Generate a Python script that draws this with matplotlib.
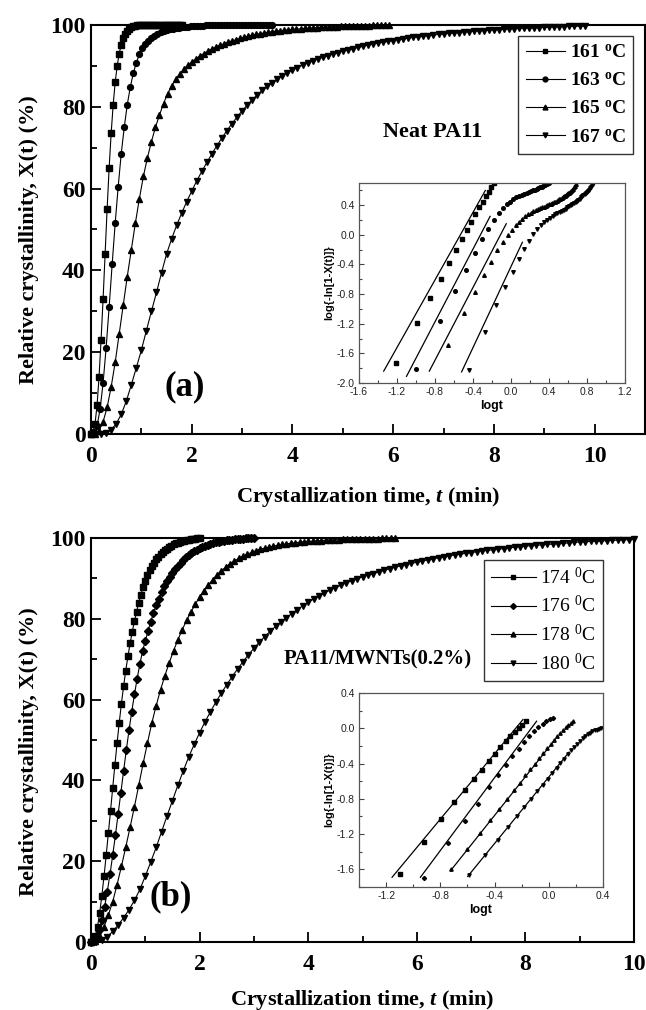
import matplotlib
matplotlib.use("Agg")
import matplotlib.pyplot as plt
from matplotlib.lines import Line2D
from matplotlib.ticker import MultipleLocator
import numpy as np

plt.rcParams['font.family'] = ['Liberation Serif', 'DejaVu Serif']
plt.rcParams['mathtext.fontset'] = 'custom'
plt.rcParams['mathtext.rm'] = 'Liberation Serif'
plt.rcParams['mathtext.it'] = 'Liberation Serif:italic:bold'
plt.rcParams['mathtext.bf'] = 'Liberation Serif:bold'

# ---------------- data: panel (a) Neat PA11 ----------------
labels_a = ['161 $^{\\mathbf{o}}$C', '163 $^{\\mathbf{o}}$C', '165 $^{\\mathbf{o}}$C', '167 $^{\\mathbf{o}}$C']
t161 = [0.00,0.04,0.08,0.12,0.16,0.20,0.24,0.28,0.32,0.36,0.40,0.44,0.48,0.52,0.56,0.60,0.64,0.68,0.72,0.76,
        0.80,0.84,0.88,0.92,0.96,1.00,1.04,1.08,1.12,1.16,1.20,1.24,1.28,1.32,1.36,1.40,1.44,1.48,1.52,1.56,
        1.60,1.64,1.68,1.72,1.76,1.80]
x161 = [0,0.5,2.5,7,14,23,33,44,55,65,73.5,80.5,86,90,93,95.2,96.8,97.9,98.6,99.1,
        99.45,99.65,99.8,99.9,99.95,100,100,100,100,100,100,100,100,100,100,100,100,100,100,100,
        100,100,100,100,100,100]
t163 = [0.00,0.06,0.12,0.18,0.24,0.30,0.36,0.42,0.48,0.54,0.60,0.66,0.72,0.78,0.84,0.90,0.96,1.02,1.08,1.14,
        1.20,1.26,1.32,1.38,1.44,1.50,1.56,1.62,1.68,1.74,1.80,1.86,1.92,1.98,2.04,2.10,2.16,2.22,2.28,2.34,
        2.40,2.46,2.52,2.58,2.64,2.70,2.76,2.82,2.88,2.94,3.00,3.06,3.12,3.18,3.24,3.30,3.36,3.42,3.48,3.54,3.60]
x163 = [0,0.3,2.0,6,12.5,21,31,41.5,51.5,60.5,68.5,75,80.5,84.8,88.2,90.8,92.8,94.3,95.4,96.2,
        96.9,97.4,97.85,98.2,98.5,98.75,98.95,99.12,99.26,99.38,99.48,99.56,99.63,99.69,99.74,99.78,99.82,99.85,99.88,99.9,
        99.92,99.94,99.95,99.96,99.97,99.98,99.99,100,100,100,100,100,100,100,100,100,100,100,100,100,100]
t165 = [0.00,0.08,0.16,0.24,0.32,0.40,0.48,0.56,0.64,0.72,0.80,0.88,0.96,1.04,1.12,1.20,1.28,1.36,1.44,1.52,
        1.60,1.68,1.76,1.84,1.92,2.00,2.08,2.16,2.24,2.32,2.40,2.48,2.56,2.64,2.72,2.80,2.88,2.96,3.04,3.12,
        3.20,3.28,3.36,3.44,3.52,3.60,3.68,3.76,3.84,3.92,4.00,4.08,4.16,4.24,4.32,4.40,4.48,4.56,4.64,4.72,
        4.80,4.88,4.96,5.04,5.12,5.20,5.28,5.36,5.44,5.52,5.60,5.68,5.76,5.84,5.92]
x165 = [0,0.1,0.8,3.0,6.5,11.5,17.5,24.5,31.5,38.5,45,51.5,57.5,63,67.5,71.5,75,78,80.8,83.2,
        85.1,86.7,88.0,89.2,90.1,90.9,91.7,92.4,93.0,93.6,94.1,94.6,95.0,95.4,95.8,96.1,96.4,96.7,97.0,97.25,
        97.5,97.7,97.9,98.05,98.2,98.35,98.5,98.6,98.7,98.8,98.9,99.0,99.08,99.15,99.22,99.3,99.36,99.42,99.47,99.52,
        99.57,99.61,99.65,99.69,99.72,99.75,99.78,99.81,99.84,99.86,99.88,99.9,99.92,99.94,99.96]
t167 = [0.0,0.1,0.2,0.3,0.4,0.5,0.6,0.7,0.8,0.9,1.0,1.1,1.2,1.3,1.4,1.5,1.6,1.7,1.8,1.9,
        2.0,2.1,2.2,2.3,2.4,2.5,2.6,2.7,2.8,2.9,3.0,3.1,3.2,3.3,3.4,3.5,3.6,3.7,3.8,3.9,
        4.0,4.1,4.2,4.3,4.4,4.5,4.6,4.7,4.8,4.9,5.0,5.1,5.2,5.3,5.4,5.5,5.6,5.7,5.8,5.9,
        6.0,6.1,6.2,6.3,6.4,6.5,6.6,6.7,6.8,6.9,7.0,7.1,7.2,7.3,7.4,7.5,7.6,7.7,7.8,7.9,
        8.0,8.1,8.2,8.3,8.4,8.5,8.6,8.7,8.8,8.9,9.0,9.1,9.2,9.3,9.4,9.5,9.6,9.7,9.8]
x167 = [0,0,0.05,0.3,1.0,2.5,4.8,8,12,16.2,20.5,25.3,30.0,34.6,39.4,44.0,47.7,51.0,54.0,56.8,
        59.4,61.9,64.2,66.4,68.5,70.5,72.4,74.2,75.9,77.5,79.0,80.4,81.7,82.9,84.0,85.0,85.9,86.8,87.6,88.3,
        89.0,89.6,90.2,90.7,91.2,91.7,92.1,92.5,92.9,93.25,93.6,93.9,94.2,94.5,94.8,95.1,95.35,95.6,95.8,96.0,
        96.2,96.4,96.6,96.8,96.95,97.1,97.25,97.4,97.55,97.7,97.8,97.95,98.05,98.15,98.25,98.35,98.45,98.55,98.65,98.72,
        98.8,98.88,98.95,99.02,99.09,99.15,99.21,99.27,99.33,99.38,99.43,99.48,99.53,99.57,99.61,99.65,99.69,99.72,99.75]

# inset (a): log t vs log{-ln[1-X(t)]}
la161 = [-1.21,-0.99,-0.85,-0.74,-0.654,-0.582,-0.52,-0.466,-0.418,-0.375,-0.335,-0.299,-0.266,-0.235,-0.206,-0.179]
ly161 = [-1.73,-1.19,-0.85,-0.59,-0.38,-0.21,-0.06,0.07,0.18,0.28,0.37,0.45,0.52,0.58,0.64,0.70]
la163 = [-1.0,-0.745,-0.585,-0.469,-0.377,-0.301,-0.237,-0.180,-0.131,-0.086,-0.046,-0.009,0.025,0.057,0.086,0.114,
         0.140,0.164,0.188,0.210,0.230,0.250,0.270,0.288,0.305,0.322,0.338,0.354,0.369,0.384,0.398]
ly163 = [-1.81,-1.16,-0.76,-0.47,-0.24,-0.06,0.08,0.2,0.29,0.36,0.41,0.45,0.48,0.505,0.525,0.54,
         0.555,0.57,0.58,0.59,0.60,0.61,0.62,0.63,0.64,0.65,0.66,0.67,0.68,0.69,0.70]
la165 = [-0.658,-0.495,-0.377,-0.284,-0.208,-0.143,-0.086,-0.036,0.009,0.049,0.086,0.121,0.152,0.182,0.210,0.236,
         0.260,0.283,0.305,0.326,0.346,0.365,0.384,0.401,0.418,0.435,0.450,0.465,0.480,0.494,0.508,0.521,
         0.534,0.547,0.559,0.571,0.582,0.593,0.604,0.615,0.625,0.635,0.645,0.655,0.665,0.674,0.683]
ly165 = [-1.49,-1.06,-0.77,-0.54,-0.36,-0.21,-0.09,0.0,0.07,0.13,0.18,0.22,0.255,0.28,0.30,0.32,
         0.335,0.35,0.36,0.37,0.38,0.39,0.40,0.41,0.42,0.43,0.44,0.45,0.46,0.47,0.48,0.49,
         0.50,0.51,0.52,0.53,0.54,0.55,0.56,0.57,0.58,0.59,0.60,0.62,0.64,0.66,0.68]
la167 = [-0.444,-0.276,-0.155,-0.060,0.017,0.083,0.140,0.190,0.236,0.276,0.314,0.348,0.380,0.410,0.438,0.464,
         0.489,0.512,0.534,0.555,0.575,0.594,0.613,0.630,0.647,0.664,0.679,0.695,0.709,0.723,0.737,0.750,
         0.763,0.776,0.788,0.800,0.812,0.823,0.834,0.844,0.855,0.865]
ly167 = [-1.83,-1.31,-0.95,-0.70,-0.50,-0.33,-0.19,-0.08,0.01,0.08,0.13,0.17,0.20,0.23,0.255,0.275,
         0.295,0.31,0.325,0.34,0.355,0.37,0.385,0.40,0.415,0.43,0.445,0.46,0.475,0.49,0.505,0.52,
         0.535,0.55,0.565,0.58,0.595,0.61,0.63,0.65,0.67,0.69]
fitx_a = [[-1.34,-0.27],[-1.10,-0.22],[-0.86,-0.05],[-0.52,0.12]]
fity_a = [[-1.84,0.60],[-1.91,0.25],[-1.84,0.15],[-1.85,-0.10]]

# ---------------- data: panel (b) PA11/MWNTs(0.2%) ----------------
labels_b = ['174 $^{0}$C', '176 $^{0}$C', '178 $^{0}$C', '180 $^{0}$C']
t174 = [0.00,0.04,0.08,0.12,0.16,0.20,0.24,0.28,0.32,0.36,0.40,0.44,0.48,0.52,0.56,0.60,0.64,0.68,0.72,0.76,
        0.80,0.84,0.88,0.92,0.96,1.00,1.04,1.08,1.12,1.16,1.20,1.24,1.28,1.32,1.36,1.40,1.44,1.48,1.52,1.56,
        1.60,1.64,1.68,1.72,1.76,1.80,1.84,1.88,1.92,1.96,2.00]
x174 = [0,0.3,1.5,3.8,7.2,11.5,16.3,21.5,27,32.5,38.2,43.8,49.2,54.3,59,63.3,67.2,70.7,73.9,76.8,
        79.4,81.8,84.0,86.0,87.8,89.4,90.8,92.0,93.0,93.9,94.7,95.4,96.0,96.5,97.0,97.4,97.8,98.1,98.4,98.65,
        98.85,99.05,99.2,99.35,99.47,99.58,99.67,99.75,99.82,99.88,99.93]
t176 = [0.00,0.05,0.10,0.15,0.20,0.25,0.30,0.35,0.40,0.45,0.50,0.55,0.60,0.65,0.70,0.75,0.80,0.85,0.90,0.95,
        1.00,1.05,1.10,1.15,1.20,1.25,1.30,1.35,1.40,1.45,1.50,1.55,1.60,1.65,1.70,1.75,1.80,1.85,1.90,1.95,
        2.00,2.05,2.10,2.15,2.20,2.25,2.30,2.35,2.40,2.45,2.50,2.55,2.60,2.65,2.70,2.75,2.80,2.85,2.90,2.95,3.00]
x176 = [0,0.3,1.2,3.0,5.5,8.7,12.5,16.8,21.5,26.5,31.7,37,42.3,47.5,52.4,57,61.3,65.2,68.8,72.1,
        74.5,77.0,79.3,81.4,83.3,85.0,86.6,88.0,89.3,90.4,91.4,92.3,93.1,93.9,94.6,95.2,95.75,96.25,96.7,97.1,
        97.45,97.8,98.1,98.35,98.58,98.78,98.95,99.1,99.23,99.35,99.45,99.54,99.62,99.69,99.75,99.8,99.85,99.89,99.92,99.95,99.97]
t178 = [0.00,0.08,0.16,0.24,0.32,0.40,0.48,0.56,0.64,0.72,0.80,0.88,0.96,1.04,1.12,1.20,1.28,1.36,1.44,1.52,
        1.60,1.68,1.76,1.84,1.92,2.00,2.08,2.16,2.24,2.32,2.40,2.48,2.56,2.64,2.72,2.80,2.88,2.96,3.04,3.12,
        3.20,3.28,3.36,3.44,3.52,3.60,3.68,3.76,3.84,3.92,4.00,4.08,4.16,4.24,4.32,4.40,4.48,4.56,4.64,4.72,
        4.80,4.88,4.96,5.04,5.12,5.20,5.28,5.36,5.44,5.52,5.60]
x178 = [0,0.2,1.2,3.8,6.7,10.0,14.2,18.7,23.5,28.4,33.5,38.8,44.2,49.3,54.2,58.5,62.4,65.9,69.1,72.1,
        74.8,77.3,79.6,81.7,83.6,85.4,87.0,88.4,89.7,90.9,91.9,92.8,93.6,94.3,94.95,95.5,96.0,96.45,96.85,97.2,
        97.5,97.75,98.0,98.2,98.4,98.55,98.7,98.83,98.95,99.05,99.14,99.22,99.3,99.37,99.43,99.49,99.54,99.59,99.63,99.67,
        99.71,99.74,99.77,99.8,99.82,99.84,99.86,99.88,99.9,99.92,99.94]
t180 = [0.0,0.1,0.2,0.3,0.4,0.5,0.6,0.7,0.8,0.9,1.0,1.1,1.2,1.3,1.4,1.5,1.6,1.7,1.8,1.9,
        2.0,2.1,2.2,2.3,2.4,2.5,2.6,2.7,2.8,2.9,3.0,3.1,3.2,3.3,3.4,3.5,3.6,3.7,3.8,3.9,
        4.0,4.1,4.2,4.3,4.4,4.5,4.6,4.7,4.8,4.9,5.0,5.1,5.2,5.3,5.4,5.5,5.6,5.7,5.8,5.9,
        6.0,6.1,6.2,6.3,6.4,6.5,6.6,6.7,6.8,6.9,7.0,7.1,7.2,7.3,7.4,7.5,7.6,7.7,7.8,7.9,
        8.0,8.1,8.2,8.3,8.4,8.5,8.6,8.7,8.8,8.9,9.0,9.1,9.2,9.3,9.4,9.5,9.6,9.7,9.8,9.9,10.0]
x180 = [0,0.1,0.5,1.3,2.6,4.2,6.0,8.0,10.3,13.0,16.3,19.8,23.4,27.3,31.2,35.0,38.8,42.4,45.8,48.9,
        51.8,54.5,57.0,59.4,61.6,63.7,65.7,67.6,69.4,71.1,72.7,74.2,75.6,76.9,78.1,79.2,80.3,81.3,82.3,83.2,
        84.1,84.9,85.7,86.4,87.1,87.7,88.3,88.9,89.4,89.9,90.4,90.8,91.2,91.6,92.0,92.4,92.8,93.1,93.4,93.7,
        94.0,94.3,94.6,94.85,95.1,95.35,95.6,95.8,96.0,96.2,96.4,96.6,96.8,96.95,97.1,97.25,97.4,97.55,97.7,97.85,
        98.0,98.1,98.2,98.3,98.4,98.5,98.6,98.7,98.8,98.9,99.0,99.07,99.14,99.21,99.28,99.35,99.42,99.48,99.54,99.6,99.65]

# inset (b)
lb174 = [-1.097,-0.921,-0.796,-0.699,-0.620,-0.553,-0.495,-0.444,-0.398,-0.357,-0.319,-0.284,-0.252,-0.222,-0.194,-0.167]
yb174 = [-1.657,-1.286,-1.03,-0.84,-0.70,-0.57,-0.47,-0.375,-0.29,-0.215,-0.145,-0.085,-0.04,0.0,0.04,0.085]
lb176 = [-0.921,-0.745,-0.620,-0.523,-0.444,-0.377,-0.319,-0.268,-0.222,-0.180,-0.143,-0.108,-0.076,-0.046,-0.018,0.009,0.033]
yb176 = [-1.70,-1.30,-1.05,-0.86,-0.67,-0.53,-0.42,-0.32,-0.23,-0.15,-0.085,-0.03,0.015,0.05,0.08,0.10,0.12]
lb178 = [-0.721,-0.602,-0.509,-0.432,-0.367,-0.310,-0.260,-0.215,-0.174,-0.137,-0.102,-0.071,-0.041,-0.013,0.013,0.037,
         0.061,0.083,0.104,0.124,0.143,0.161,0.179]
yb178 = [-1.60,-1.37,-1.19,-1.04,-0.91,-0.80,-0.70,-0.615,-0.535,-0.465,-0.40,-0.34,-0.28,-0.225,-0.175,-0.13,
         -0.09,-0.05,-0.015,0.015,0.04,0.06,0.08]
lb180 = [-0.585,-0.469,-0.377,-0.301,-0.237,-0.180,-0.131,-0.086,-0.046,-0.009,0.025,0.057,0.086,0.114,0.140,0.164,
         0.188,0.210,0.230,0.250,0.270,0.288,0.305,0.322,0.338,0.354,0.369,0.384]
yb180 = [-1.66,-1.44,-1.265,-1.12,-1.0,-0.895,-0.80,-0.715,-0.64,-0.57,-0.51,-0.45,-0.395,-0.345,-0.29,-0.25,
         -0.21,-0.175,-0.14,-0.11,-0.085,-0.065,-0.05,-0.035,-0.025,-0.015,-0.005,0.0]
fitx_b = [[-1.156,-0.19],[-0.947,-0.09],[-0.725,0.05],[-0.598,0.15]]
fity_b = [[-1.69,0.10],[-1.69,0.08],[-1.616,-0.12],[-1.68,-0.27]]

# ---------------- figure ----------------
W, H = 646, 1010
fig = plt.figure(figsize=(W/100, H/100), dpi=100)

def px_axes(l, t, r, b):
    return fig.add_axes([l/W, 1-b/H, (r-l)/W, (b-t)/H])

def ftext(x, y, s, **kw):
    fig.text(x/W, 1-y/H, s, **kw)

def style_main(ax, xmax):
    ax.set_xlim(0, xmax)
    ax.set_ylim(0, 100)
    ax.xaxis.set_major_locator(MultipleLocator(2))
    ax.xaxis.set_minor_locator(MultipleLocator(1))
    ax.yaxis.set_major_locator(MultipleLocator(20))
    ax.yaxis.set_minor_locator(MultipleLocator(10))
    ax.tick_params(which='both', direction='in', top=False, right=False, width=1.3)
    ax.tick_params(which='major', length=7)
    ax.tick_params(which='minor', length=4)
    ax.tick_params(axis='x', pad=9)
    ax.tick_params(axis='y', pad=4)
    for lab in ax.get_xticklabels() + ax.get_yticklabels():
        lab.set_fontsize(17)
        lab.set_fontweight('bold')
    for s in ax.spines.values():
        s.set_linewidth(1.5)

def style_inset(ax, xlim, ylim, xticks, yticks):
    ax.set_xlim(*xlim)
    ax.set_ylim(*ylim)
    ax.set_xticks(xticks)
    ax.set_yticks(yticks)
    ax.xaxis.set_minor_locator(MultipleLocator(0.2))
    ax.yaxis.set_minor_locator(MultipleLocator(0.2))
    ax.tick_params(which='both', direction='in', top=False, right=False, width=0.8,
                   colors='#444444', labelcolor='#222222', labelsize=7.5, pad=3)
    ax.tick_params(which='major', length=3.5)
    ax.tick_params(which='minor', length=2)
    ax.set_xticklabels(['%.1f' % v for v in xticks], family='Liberation Sans')
    ax.set_yticklabels(['%.1f' % v for v in yticks], family='Liberation Sans')
    for s in ax.spines.values():
        s.set_linewidth(0.9)
        s.set_color('#555555')

markers_a = ['s', 'o', '^', 'v']
markers_b = ['s', 'D', '^', 'v']

# ---- panel (a)
axa = px_axes(91, 25, 645, 434)
series_a = [(t161, x161), (t163, x163), (t165, x165), (t167, x167)]
for (t, x), m in zip(series_a, markers_a):
    axa.plot(t, x, color='black', lw=0.8, marker=m, ms=4 if m != 'o' else 4.2,
             mec='black', mfc='black', clip_on=False)
style_main(axa, 11)

handles_a = [Line2D([], [], color='black', lw=0.8, marker=m, ms=3.5) for m in markers_a]
leg = axa.legend(handles_a, labels_a, loc='upper left',
                 bbox_to_anchor=((518-91)/554, 1-(36-25)/409),
                 prop={'family': 'Liberation Serif', 'weight': 'bold', 'size': 14},
                 frameon=True, fancybox=False, edgecolor='#333333', framealpha=1,
                 handlelength=2.0, handletextpad=0.25, labelspacing=0.55,
                 borderpad=0.4, borderaxespad=0)
leg.get_frame().set_linewidth(1.0)

ftext(433, 132, 'Neat PA11', ha='center', va='center', fontsize=16, fontweight='bold')
ftext(185, 387, '(a)', ha='center', va='center', fontsize=25, fontweight='bold')
ftext(368, 497, 'Crystallization time, $t$ (min)', ha='center', va='center', fontsize=16, fontweight='bold')
ftext(29, 240, 'Relative crystallinity, X(t) (%)', ha='center', va='center', rotation=90,
      fontsize=16, fontweight='bold')

# inset (a)
ina = px_axes(359, 183, 625, 383)
for (lx, ly), m in zip([(la161, ly161), (la163, ly163), (la165, ly165), (la167, ly167)], markers_a):
    ina.plot(lx, ly, ls='none', marker=m, ms=2.6, color='black', clip_on=True)
for fx, fy in zip(fitx_a, fity_a):
    ina.plot(fx, fy, color='black', lw=0.9)
style_inset(ina, (-1.6, 1.2), (-2.0, 0.70),
            [-1.6, -1.2, -0.8, -0.4, 0.0, 0.4, 0.8, 1.2],
            [-2.0, -1.6, -1.2, -0.8, -0.4, 0.0, 0.4])
ina.set_xlabel('logt', family='Liberation Sans', fontweight='bold', fontsize=9, labelpad=2)
ina.set_ylabel('log{-ln[1-X(t)]}', family='Liberation Sans', fontweight='bold', fontsize=8, labelpad=2)

# ---- panel (b)
axb = px_axes(91, 538, 634, 942)
series_b = [(t174, x174), (t176, x176), (t178, x178), (t180, x180)]
for (t, x), m in zip(series_b, markers_b):
    axb.plot(t, x, color='black', lw=0.8, marker=m, ms=4 if m != 'D' else 3.6,
             mec='black', mfc='black', clip_on=False)
style_main(axb, 10)

handles_b = [Line2D([], [], color='black', lw=0.8, marker=m, ms=3.5 if m != 'D' else 3.0) for m in markers_b]
legb = axb.legend(handles_b, labels_b, loc='upper left',
                  bbox_to_anchor=((484-91)/543, 1-(560-538)/404),
                  prop={'family': 'Liberation Serif', 'size': 14},
                  frameon=True, fancybox=False, edgecolor='#333333', framealpha=1,
                  handlelength=2.3, handletextpad=0.25, labelspacing=0.38,
                  borderpad=0.35, borderaxespad=0)
legb.get_frame().set_linewidth(1.0)

ftext(378, 659, 'PA11/MWNTs(0.2%)', ha='center', va='center', fontsize=15, fontweight='bold')
ftext(171, 897, '(b)', ha='center', va='center', fontsize=25, fontweight='bold')
ftext(362, 1000, 'Crystallization time, $t$ (min)', ha='center', va='center', fontsize=16, fontweight='bold')
ftext(29, 752, 'Relative crystallinity, X(t) (%)', ha='center', va='center', rotation=90,
      fontsize=16, fontweight='bold')

# inset (b)
inb = px_axes(359, 693, 603, 887)
for (lx, ly), m in zip([(lb174, yb174), (lb176, yb176), (lb178, yb178), (lb180, yb180)], markers_b):
    inb.plot(lx, ly, ls='none', marker=m, ms=2.4 if m != 'D' else 2.1, color='black')
for fx, fy in zip(fitx_b, fity_b):
    inb.plot(fx, fy, color='black', lw=0.9)
style_inset(inb, (-1.4, 0.4), (-1.8, 0.4),
            [-1.2, -0.8, -0.4, 0.0, 0.4],
            [-1.6, -1.2, -0.8, -0.4, 0.0, 0.4])
inb.set_xlabel('logt', family='Liberation Sans', fontweight='bold', fontsize=9, labelpad=2)
inb.set_ylabel('log{-ln[1-X(t)]}', family='Liberation Sans', fontweight='bold', fontsize=8, labelpad=2)

fig.savefig('out.png', dpi=100)
